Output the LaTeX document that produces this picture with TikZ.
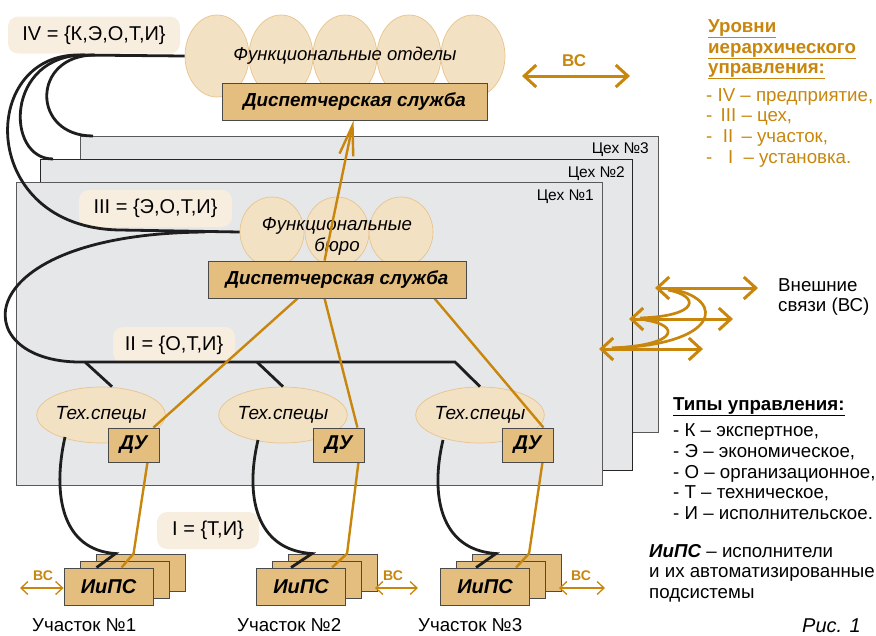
\documentclass[tikz,border=0pt]{standalone}
\usepackage{fontspec}
\setmainfont{Liberation Sans}
\usetikzlibrary{arrows.meta,shapes.geometric,calc}
\definecolor{orng}{HTML}{C8860C}
\definecolor{tanfill}{HTML}{E4BE7F}
\definecolor{ellfill}{HTML}{F3E1C4}
\definecolor{ellline}{HTML}{E8C48E}
\definecolor{panelfill}{HTML}{E6E7E8}
\definecolor{lblfill}{HTML}{F8EEDF}
\definecolor{boxline}{HTML}{4A4A4A}
\definecolor{blkline}{HTML}{1E1E1E}
\newcommand\fz[1]{\fontsize{#1}{#1}\selectfont}
\begin{document}
\begin{tikzpicture}[x=1pt,y=-1pt,
  panel/.style={draw=black!65, fill=panelfill, line width=0.9pt},
  setlbl/.style={fill=lblfill, rounded corners=10pt, inner sep=0pt, font=\fz{20}},
  fell/.style={ellipse, draw=ellline, fill=ellfill, line width=0.7pt, inner sep=0pt},
  tanbox/.style={draw=boxline, fill=tanfill, line width=0.9pt, inner sep=0pt, font=\fz{18.8}\bfseries\itshape},
  smallbox/.style={tanbox, font=\fz{20}\bfseries\itshape},
  blk/.style={line width=2.8pt, draw=blkline},
  org/.style={line width=2.4pt, draw=orng},
  bigarr/.style={line width=3pt, draw=orng, {Straight Barb[length=12pt,width=22pt]}-{Straight Barb[length=12pt,width=22pt]}},
  smallarr/.style={line width=1.3pt, draw=orng, {Straight Barb[length=7pt,width=13pt]}-{Straight Barb[length=7pt,width=13pt]}},
  txt/.style={inner sep=0pt, font=\fz{18.7}},
  otxt/.style={inner sep=0pt, font=\fz{18.7}, text=orng},
]
\useasboundingbox (0,0) rectangle (876,635);

% ---------- shop panels ----------
\draw[panel] (80,136) rectangle (658,432);
\draw[panel, draw=black!85] (40,159) rectangle (632,470);
\draw[panel] (16,182) rectangle (602,485);
\node[txt, font=\fz{15.5}, anchor=base east] (ceh3) at (649,153) {Цех №3};
\node[txt, font=\fz{15.5}, anchor=base east] (ceh2) at (625,177) {Цех №2};
\node[txt, font=\fz{15.5}, anchor=base east] (ceh1) at (594,200) {Цех №1};

% ---------- level labels ----------
\node[setlbl, minimum width=172pt, minimum height=37pt] (lvIV) at (94,35) {IV = \{К,Э,О,Т,И\}};
\node[setlbl, minimum width=153pt, minimum height=37pt] (lvIII) at (155.5,208.5) {III = \{Э,О,Т,И\}};
\node[setlbl, minimum width=122pt, minimum height=36pt] (lvII) at (174,345) {II = \{О,Т,И\}};
\node[setlbl, minimum width=102pt, minimum height=37pt] (lvI) at (208,530.5) {I = \{Т,И\}};

% ---------- functional departments ----------
\foreach \i/\xx in {1/217,2/281,3/345,4/409,5/473}
  \node[fell, minimum width=64pt, minimum height=82pt] (f\i) at (\xx,56) {};
\node[txt, font=\fz{18.5}\itshape] (ftext) at (345,56) {Функциональные отделы};

% ---------- functional bureaus ----------
\foreach \i/\xx in {1/272,2/337,3/401}
  \node[fell, minimum width=64pt, minimum height=70pt] (b\i) at (\xx,232) {};
\node[txt, font=\fz{18.7}\itshape, anchor=base] (btext1) at (337,230) {Функциональные};
\node[txt, font=\fz{18.7}\itshape, anchor=base] (btext2) at (337,251) {бюро};

% ---------- tech specialists ----------
\node[fell, minimum width=106pt, minimum height=56pt, font=\fz{19}\itshape] (t1) at (101,415) {Тех.спецы};
\node[fell, minimum width=106pt, minimum height=56pt, font=\fz{19}\itshape] (t2) at (283,415) {Тех.спецы};
\node[fell, minimum width=106pt, minimum height=56pt, font=\fz{19}\itshape] (t3) at (480,415) {Тех.спецы};

% ---------- black (control) connectors ----------
\coordinate (iv1) at (95,55);
\coordinate (iv2) at (85,55);
\coordinate (iv3) at (78,55);
\coordinate (e3) at (93,136);
\coordinate (e2) at (53,159);
\coordinate (iiiL) at (205,232);
\coordinate (iiL) at (80,362);
\coordinate (iiR) at (455,362);
\draw[blk] (f1.west) -- (iv3);
\draw[blk] (iv1) .. controls (31,55) and (31,136) .. (e3);
\draw[blk] (iv2) .. controls (5,55) and (5,159) .. (e2);
\draw[blk] (iv3) .. controls (-22,55) and (-22,228) .. (120,230) -- (b1.west);
\draw[blk] (iiiL) .. controls (-35,234) and (-35,362) .. (iiL) -- (iiR) -- (t3.north);
\draw[blk] (85,362) -- ($(t1.north)+(11,0)$);
\draw[blk] (257,362) -- (t2.north);

% ---------- dispatch boxes ----------
\node[tanbox, minimum width=265pt, minimum height=37pt] (d1) at (354.5,101.5) {Диспетчерская служба};
\node[tanbox, minimum width=258pt, minimum height=37pt] (d2) at (337,279.5) {Диспетчерская служба};

% ---------- local dispatch units ----------
\node[smallbox, minimum width=51pt, minimum height=34pt] (du1) at (133.5,445) {ДУ};
\node[smallbox, minimum width=51pt, minimum height=34pt] (du2) at (338.5,445) {ДУ};
\node[smallbox, minimum width=51pt, minimum height=34pt] (du3) at (527.5,445) {ДУ};

% ---------- executors stacks ----------
\foreach \g/\xx in {1/108.5,2/301,3/485}{
  \node[smallbox, minimum width=89pt, minimum height=37pt] (p\g c) at (\xx+32,572.5) {};
  \node[smallbox, minimum width=89pt, minimum height=37pt] (p\g b) at (\xx+16,579.5) {};
  \node[smallbox, minimum width=89pt, minimum height=37pt] (p\g a) at (\xx,586.5) {ИиПС};
}

% black connectors tech -> executors
\draw[blk] ($(t1.center)+(-36,22)$) .. controls (52,495) and (62,550) .. ($(p1c.north west)+(20,0)$) -- ($(p1a.north west)+(33,0)$);
\draw[blk] ($(t2.center)+(-25,25)$) .. controls (245,495) and (255,550) .. ($(p2c.north west)+(24,0)$) -- ($(p2a.north west)+(35,0)$);
\draw[blk] ($(t3.center)+(-37,25)$) .. controls (430,495) and (440,550) .. ($(p3c.north west)+(24,0)$) -- ($(p3a.north west)+(36,0)$);

% ---------- orange (dispatch) connectors ----------
\draw[org] ($(d2.south west)+(90,0)$) -- ($(du1.north east)+(-6,0)$);
\draw[org] ($(d2.south west)+(117,0)$) -- ($(du2.north east)+(-7,0)$);
\draw[org] ($(d2.south west)+(227,0)$) -- ($(du3.north east)+(-10,0)$);
\draw[org, -{Straight Barb[length=30pt,width=14pt]}] ($(d2.north west)+(117,0)$) -- ($(d1.south west)+(132,0)$);
\draw[org] ($(du1.south east)+(-12,0)$) -- ($(p1c.north west)+(38,0)$) -- ($(p1a.north west)+(58,0)$);
\draw[org] ($(du2.south east)+(-6,0)$) -- ($(p2c.north west)+(59,0)$) -- ($(p2a.north west)+(76,0)$);
\draw[org] ($(du3.south east)+(-11,0)$) -- ($(p3c.north west)+(57,0)$) -- ($(p3a.north west)+(76,0)$);

% redraw boxes on top of connectors
\node[tanbox, minimum width=265pt, minimum height=37pt] at (d1) {Диспетчерская служба};
\node[tanbox, minimum width=258pt, minimum height=37pt] at (d2) {Диспетчерская служба};
\node[smallbox, minimum width=51pt, minimum height=34pt] at (du1) {ДУ};
\node[smallbox, minimum width=51pt, minimum height=34pt] at (du2) {ДУ};
\node[smallbox, minimum width=51pt, minimum height=34pt] at (du3) {ДУ};

% ---------- external links ----------
\coordinate (vsL) at (522,76);
\coordinate (vsR) at (630,76);
\draw[bigarr] (vsL) -- (vsR);
\node[inner sep=0pt, font=\fz{17}\bfseries, text=orng, anchor=base west] (vslbl) at (562,66) {ВС};

\coordinate (a1l) at (655,288); \coordinate (a1r) at (758,288);
\coordinate (a2l) at (629,319); \coordinate (a2r) at (733,319);
\coordinate (a3l) at (599,349); \coordinate (a3r) at (703,349);
\draw[bigarr] (a1l) -- (a1r);
\draw[bigarr] (a2l) -- (a2r);
\draw[bigarr] (a3l) -- (a3r);
\draw[org, line width=2.7pt] (668,290) .. controls (700,296) and (700,316) .. (640,318);
\draw[org, line width=2.7pt] (675,290) .. controls (725,300) and (720,345) .. (612,348);
\draw[org, line width=2.7pt] (645,320) .. controls (680,325) and (680,345) .. (612,348);
\node[txt, anchor=base west] (ext1) at (778,291) {Внешние};
\node[txt, anchor=base west] (ext2) at (778,311) {связи (ВС)};

% small BC arrows
\coordinate (s1l) at (20,588);
\coordinate (s2r) at (418,588);
\coordinate (s3r) at (605,588);
\draw[smallarr] (s1l) -- (p1a.west |- s1l);
\draw[smallarr] ($(p2c.east |- s2r)+(-3,0)$) -- (s2r);
\draw[smallarr] ($(p3c.east |- s3r)+(-3,0)$) -- (s3r);
\node[inner sep=0pt, font=\fz{14}\bfseries, text=orng, anchor=base west] (vs1) at (33,580) {ВС};
\node[inner sep=0pt, font=\fz{14}\bfseries, text=orng, anchor=base west] (vs2) at (383,580) {ВС};
\node[inner sep=0pt, font=\fz{14}\bfseries, text=orng, anchor=base west] (vs3) at (571,580) {ВС};

% sections
\node[txt, anchor=base west] (u1) at (32,631) {Участок №1};
\node[txt, anchor=base west] (u2) at (237,631) {Участок №2};
\node[txt, anchor=base west] (u3) at (418,631) {Участок №3};

% ---------- legend: levels ----------
\node[otxt, font=\fz{18.7}\bfseries, anchor=base west] (lg1) at (708,32) {\underline{Уровни}};
\node[otxt, font=\fz{18.7}\bfseries, anchor=base west] (lg2) at (708,53) {\underline{иерархического}};
\node[otxt, font=\fz{18.7}\bfseries, anchor=base west] (lg3) at (708,73) {\underline{управления:}};
\node[otxt, anchor=base west] (lv4) at (706,101) {- IV – предприятие,};
\node[otxt, anchor=base west] (lv3) at (706,121) {- \,III – цех,};
\node[otxt, anchor=base west] (lv2) at (706,142) {- \ II \,– участок,};
\node[otxt, anchor=base west] (lv1) at (706,163) {- \ \ I \ – установка.};

% ---------- legend: types ----------
\node[txt, font=\fz{18.7}\bfseries, anchor=base west] (ty0) at (673,410) {\underline{Типы управления:}};
\node[txt, anchor=base west] (ty1) at (673,436.5) {- К – экспертное,};
\node[txt, anchor=base west] (ty2) at (673,457) {- Э – экономическое,};
\node[txt, anchor=base west] (ty3) at (673,478) {- О – организационное,};
\node[txt, anchor=base west] (ty4) at (673,498.5) {- Т – техническое,};
\node[txt, anchor=base west] (ty5) at (673,519) {- И – исполнительское.};
\node[txt, anchor=base west] (ip1) at (649,557) {\textbf{\textit{ИиПС}} – исполнители};
\node[txt, anchor=base west] (ip2) at (649,577) {и их автоматизированные};
\node[txt, anchor=base west] (ip3) at (649,598) {подсистемы};

\node[inner sep=0pt, font=\fz{20}\itshape, anchor=base west] (fig) at (802,632) {Рис. 1};
\end{tikzpicture}
\end{document}
